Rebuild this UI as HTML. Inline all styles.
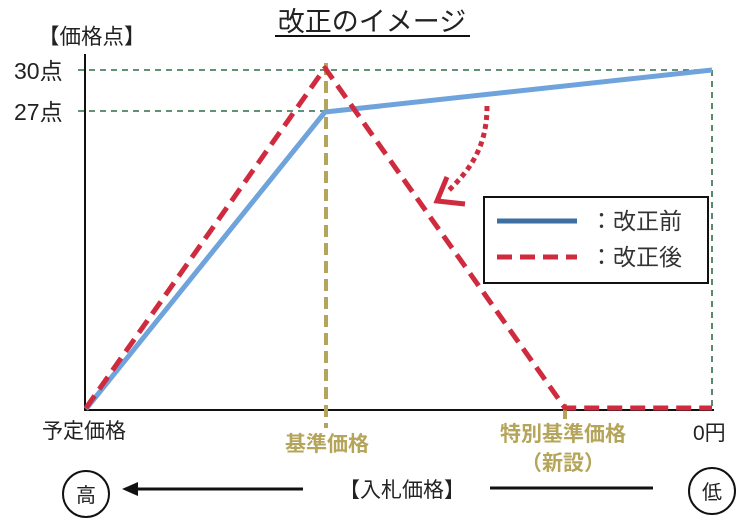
<!DOCTYPE html>
<html><head><meta charset="utf-8">
<style>
html,body{margin:0;padding:0;background:#fff;}
svg{display:block;}
text{font-family:"Liberation Sans","Noto Sans CJK JP",sans-serif;}
</style></head>
<body>
<svg width="753" height="520" viewBox="0 0 753 520" xmlns="http://www.w3.org/2000/svg">
<rect width="753" height="520" fill="#fff"/>
<!-- title -->
<text x="372" y="31" font-size="27" fill="#222" text-anchor="middle">改正のイメージ</text>
<line x1="275" y1="36" x2="470" y2="36" stroke="#111" stroke-width="2"/>
<!-- y label -->
<text x="38" y="44" font-size="21.5" fill="#222">【価格点】</text>
<text x="14" y="79" font-size="23" fill="#222">30点</text>
<text x="14" y="120" font-size="23" fill="#222">27点</text>
<!-- green dashed guides -->
<line x1="78" y1="70" x2="712" y2="70" stroke="#2f6e48" stroke-width="1.6" stroke-dasharray="6 5"/>
<line x1="78" y1="111" x2="325" y2="111" stroke="#2f6e48" stroke-width="1.6" stroke-dasharray="6 5"/>
<line x1="712" y1="70" x2="712" y2="408" stroke="#2f6e48" stroke-width="1.6" stroke-dasharray="6 5"/>
<!-- axes -->
<line x1="85" y1="54" x2="85" y2="411" stroke="#111" stroke-width="2"/>
<line x1="84" y1="410" x2="714" y2="410" stroke="#111" stroke-width="2"/>
<!-- gold lines -->
<line x1="326" y1="63" x2="326" y2="428" stroke="#b5a55a" stroke-width="4" stroke-dasharray="12 6"/>
<line x1="565" y1="404" x2="565" y2="419" stroke="#b5a55a" stroke-width="4"/>
<!-- blue before -->
<polyline points="86,409 325,112 712,70" fill="none" stroke="#6fa3dc" stroke-width="5" stroke-linejoin="round"/>
<!-- red after -->
<polyline points="86,408 325,68 565,408 712,408" fill="none" stroke="#d02a3e" stroke-width="5" stroke-dasharray="15 8" stroke-linejoin="round"/>
<!-- dotted arrow -->
<path d="M487,106 C487,140 476,165 447,192" fill="none" stroke="#d02a3e" stroke-width="5" stroke-dasharray="5 4"/>
<polyline points="447,177 437,201 465,204" fill="none" stroke="#d02a3e" stroke-width="5" stroke-linejoin="miter"/>
<!-- legend -->
<rect x="484" y="197" width="224" height="86" fill="#fff" stroke="#111" stroke-width="2"/>
<line x1="497" y1="221" x2="577" y2="221" stroke="#3d6fa3" stroke-width="5"/>
<line x1="497" y1="257" x2="577" y2="257" stroke="#d02a3e" stroke-width="5" stroke-dasharray="15 8"/>
<text x="590" y="229" font-size="23" fill="#333">：改正前</text>
<text x="590" y="265" font-size="23" fill="#333">：改正後</text>
<!-- x labels -->
<text x="42" y="438" font-size="21" fill="#222">予定価格</text>
<text x="285" y="451" font-size="21" fill="#b5a55a" font-weight="bold">基準価格</text>
<text x="500" y="441" font-size="21" fill="#b5a55a" font-weight="bold">特別基準価格</text>
<text x="563" y="470" font-size="21" fill="#b5a55a" font-weight="bold" text-anchor="middle">（新設）</text>
<text x="693" y="440" font-size="21" fill="#222">0円</text>
<!-- bottom arrow row -->
<circle cx="86" cy="494" r="23" fill="none" stroke="#111" stroke-width="2"/>
<text x="86" y="502" font-size="20" fill="#222" text-anchor="middle">高</text>
<line x1="135" y1="489" x2="303" y2="489" stroke="#111" stroke-width="3"/>
<polygon points="122,489 138,482 138,496" fill="#111"/>
<text x="402" y="497" font-size="21" fill="#222" text-anchor="middle">【入札価格】</text>
<line x1="490" y1="488" x2="653" y2="488" stroke="#111" stroke-width="3"/>
<circle cx="712" cy="491" r="23" fill="none" stroke="#111" stroke-width="2"/>
<text x="712" y="499" font-size="20" fill="#222" text-anchor="middle">低</text>
</svg>
</body></html>
